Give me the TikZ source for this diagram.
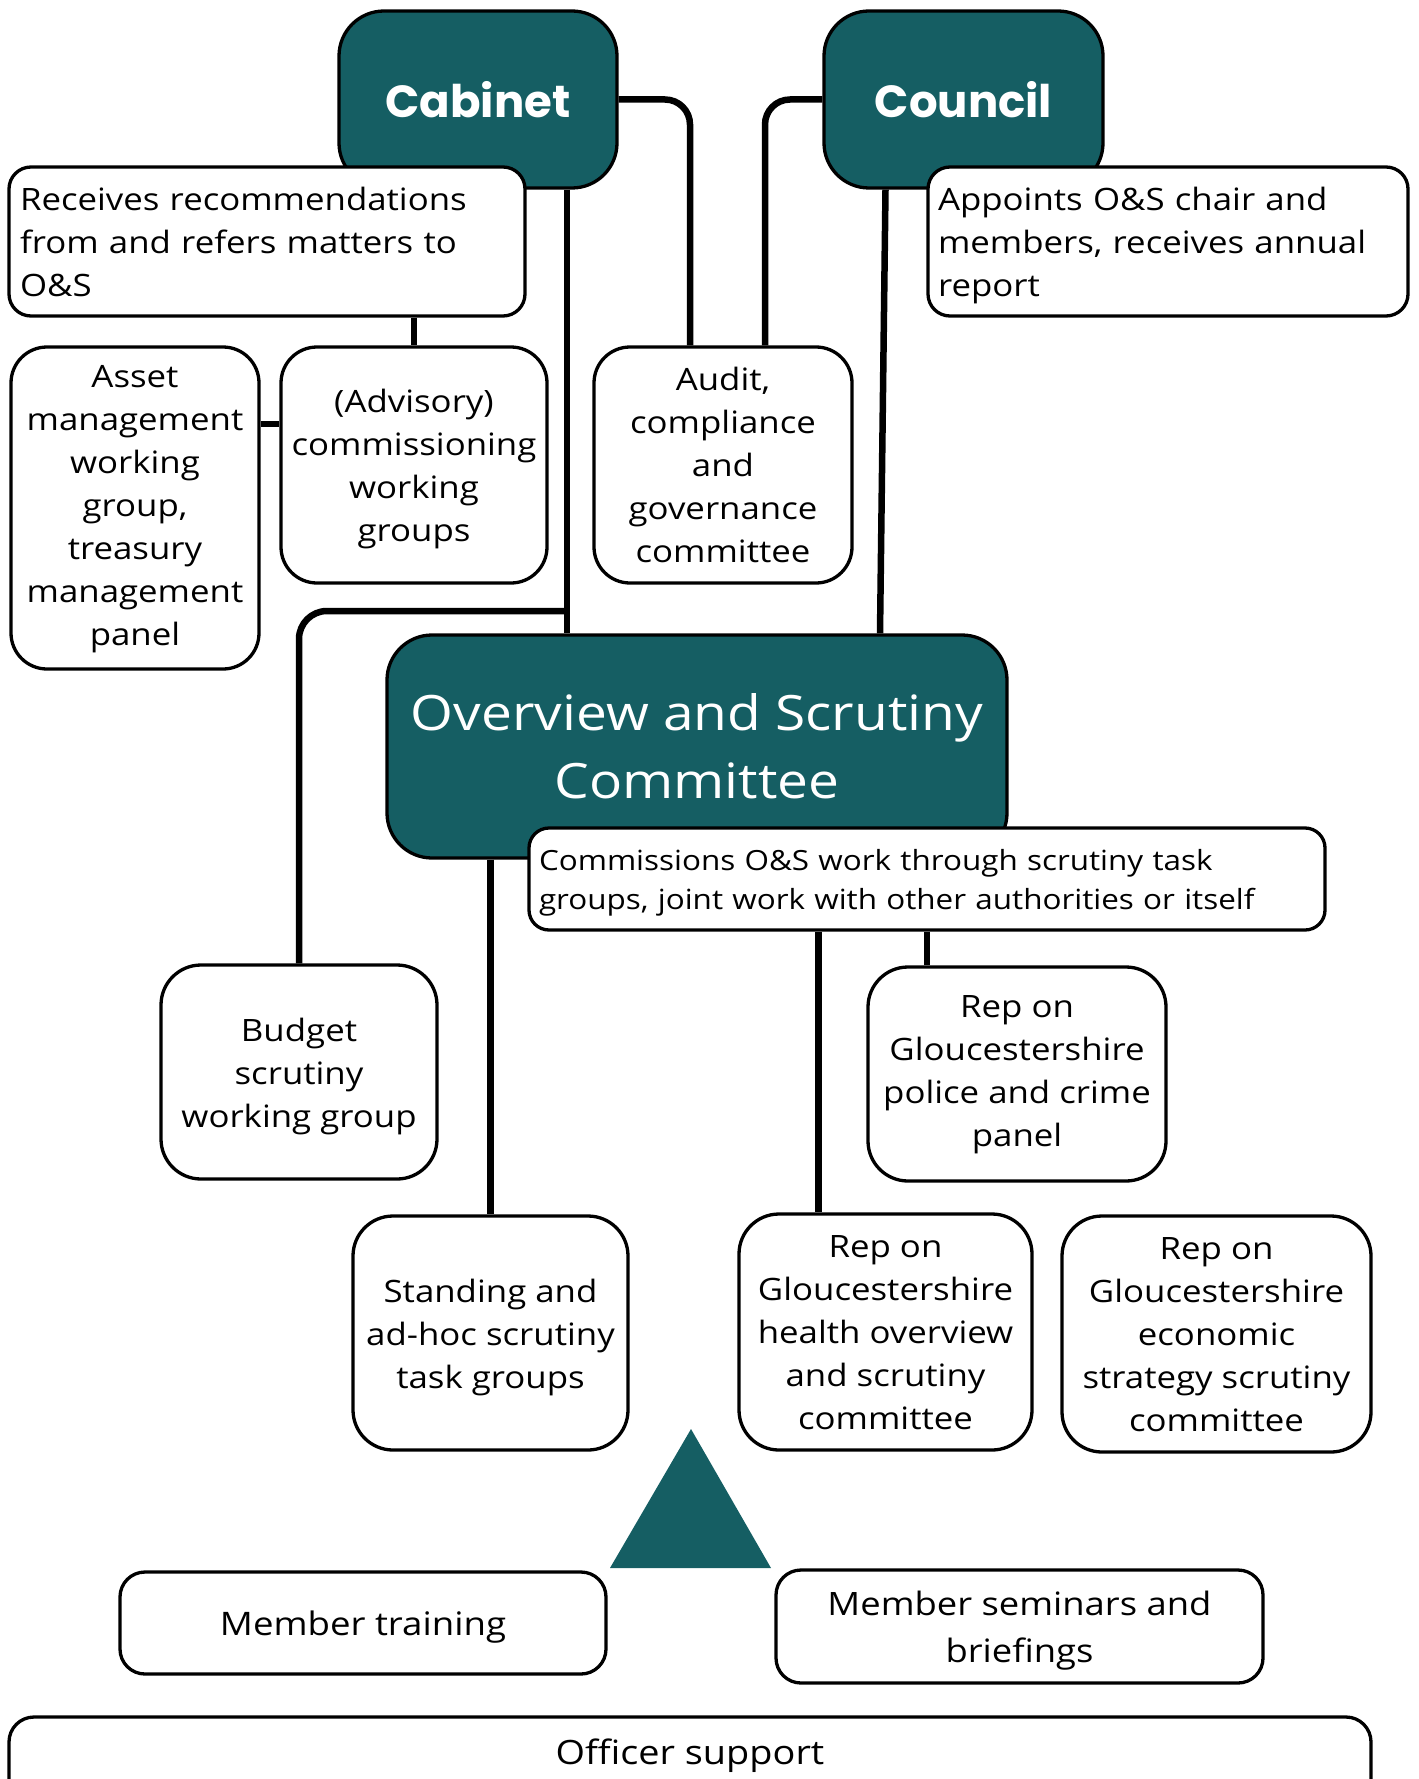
\documentclass[tikz,border=0pt]{standalone}
\usepackage{fontspec}
\setmainfont{Open Sans}[FakeStretch=1.13]
\newfontfamily\popfont{Poppins}
\usetikzlibrary{backgrounds,calc}
\definecolor{osteal}{HTML}{155E63}
\newcommand\bodyfont{\fontsize{30.8}{43}\selectfont}
\newcommand\smallbody{\fontsize{27.8}{39}\selectfont}
\newcommand\nodep[1]{\raisebox{0pt}[\height][0pt]{#1}}
\newcommand\fl{\rule{0pt}{24pt}}
\begin{document}
\begin{tikzpicture}[x=1pt,y=-1pt,
  box/.style={draw=black, line width=3.3pt, fill=white, rounded corners=36pt, align=center, font=\bodyfont, inner sep=0pt, text=black},
  dark/.style={draw=black, line width=3.3pt, fill=osteal, rounded corners=45pt, align=center, inner sep=0pt, text=white},
  conn/.style={draw=black, line width=6.5pt}
]
\useasboundingbox (0,0) rectangle (1418,1779);

% top dark boxes and their notes
\node[dark, minimum width=278pt, minimum height=177pt, font=\popfont\bfseries\fontsize{45}{50}\selectfont] (cab) at (478,99.5) {Cabinet};
\node[dark, minimum width=279pt, minimum height=177pt, font=\popfont\bfseries\fontsize{45}{50}\selectfont] (cou) at (963.5,99.5) {Council};
\node[box, rounded corners=22pt, align=left, text width=494pt, inner xsep=11pt, minimum height=149pt] (rec) at (267,241.5) {\fl Receives recommendations\\from and refers matters to\\O\&S};
\node[box, rounded corners=22pt, align=left, text width=460pt, inner xsep=10pt, minimum height=149pt] (app) at (1168,241.5) {\fl Appoints O\&S chair and\\members, receives annual\\\nodep{report}};

% second row
\node[box, minimum width=248pt, minimum height=322pt] (ast) at (135,508) {\fl Asset\\management\\working\\group,\\treasury\\management\\panel};
\node[box, minimum width=266pt, minimum height=236pt] (adv) at (414,465) {\fl(Advisory)\\commissioning\\working\\\nodep{groups}};
\node[box, minimum width=258pt, minimum height=236pt] (aud) at (723,465) {\fl Audit,\\compliance\\and\\governance\\committee};

% O&S committee
\node[dark, minimum width=620pt, minimum height=223pt, font=\fontsize{48.7}{68}\selectfont] (osc) at (697,746.5) {Overview and Scrutiny\\Committee};
\node[box, rounded corners=20pt, align=left, text width=776pt, inner xsep=10pt, minimum height=102pt, font=\smallbody] (com) at (927,879) {Commissions O\&S work through scrutiny task\\\nodep{groups, joint work with other authorities or itself}};

% lower boxes
\node[box, rounded corners=40pt, minimum width=276pt, minimum height=214pt] (bud) at (299,1072) {\fl Budget\\scrutiny\\\nodep{working group}};
\node[box, rounded corners=40pt, minimum width=298pt, minimum height=214pt] (pol) at (1017,1074) {\fl Rep on\\Gloucestershire\\police and crime\\panel};
\node[box, rounded corners=40pt, minimum width=275pt, minimum height=234pt] (std) at (490.5,1333) {\fl Standing and\\ad-hoc scrutiny\\\nodep{task groups}};
\node[box, rounded corners=40pt, minimum width=293pt, minimum height=236pt] (hea) at (885.5,1332) {\fl Rep on\\Gloucestershire\\health overview\\and scrutiny\\committee};
\node[box, rounded corners=40pt, minimum width=309pt, minimum height=236pt] (eco) at (1216.5,1334) {\fl Rep on\\Gloucestershire\\economic\\strategy scrutiny\\committee};

% support
\fill[osteal] (610,1568) -- (691,1429) -- (771,1568) -- cycle;
\node[box, rounded corners=25pt, minimum width=486pt, minimum height=102pt, font=\fontsize{32.4}{46.5}\selectfont] (trn) at (363,1623) {\nodep{Member training}};
\node[box, rounded corners=25pt, minimum width=487pt, minimum height=113pt, font=\fontsize{32.2}{46.5}\selectfont] (sem) at (1019.5,1626.5) {\fl Member seminars and\\\nodep{briefings}};
\draw[line width=3.3pt, rounded corners=25pt, fill=white] (9,1810) -- (9,1717) -- (1371,1717) -- (1371,1810);
\node[font=\fontsize{33.5}{46}\selectfont, inner sep=0pt] (off) at (690,1752) {\nodep{Officer support}};

% connectors
\coordinate (br) at (567,611);
\begin{pgfonlayer}{background}
\draw[conn, rounded corners=25pt] (cab.east) -| ([xshift=-33pt]aud.north);
\draw[conn, rounded corners=25pt] (cou.west) -| ([xshift=42pt]aud.north);
\draw[conn] ([xshift=89pt]cab.south) -- ([xshift=89pt]cab.south |- osc.north);
\draw[conn, rounded corners=28pt] (br) -| (bud.north);
\draw[conn] (adv.north |- rec.south) -- (adv.north);
\draw[conn] ([yshift=84pt]ast.east) -- ([yshift=84pt]ast.east -| adv.west);
\draw[conn] ([xshift=-78pt]cou.south) -- ([xshift=183pt]osc.north);
\draw[conn] (std.north |- osc.south) -- (std.north);
\draw[conn] ([xshift=-67pt]hea.north |- com.south) -- ([xshift=-67pt]hea.north);
\draw[conn] ([xshift=-90pt]pol.north |- com.south) -- ([xshift=-90pt]pol.north);
\end{pgfonlayer}
\end{tikzpicture}
\end{document}
